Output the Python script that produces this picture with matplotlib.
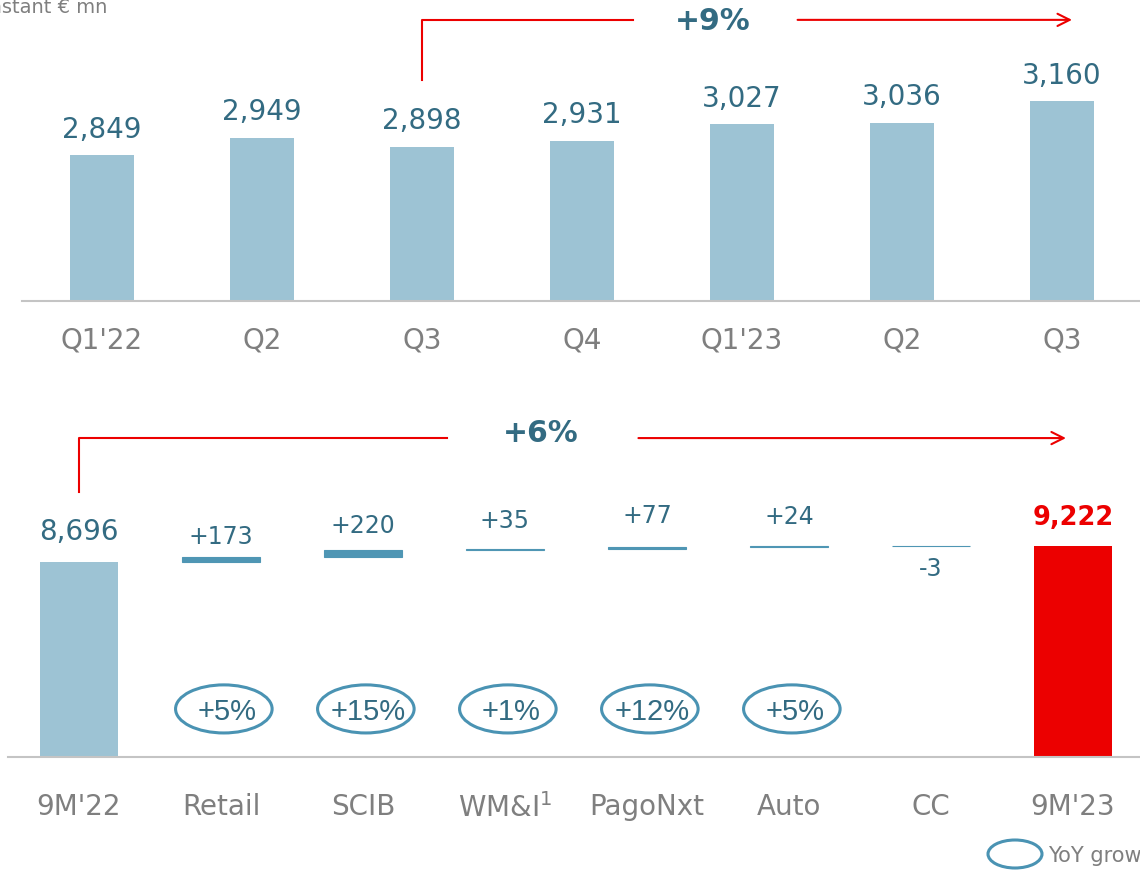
import matplotlib.pyplot as plt
import matplotlib.transforms as mtransforms
from matplotlib.patches import Ellipse
import numpy as np

# data
quarters = ["Q1'22", "Q2", "Q3", "Q4", "Q1'23", "Q2", "Q3"]
quarter_vals = [2849, 2949, 2898, 2931, 3027, 3036, 3160]

wf_labels = ["9M'22", "Retail", "SCIB", "WM&I$^{1}$", "PagoNxt", "Auto", "CC", "9M'23"]
start_val = 8696
end_val = 9222
deltas = [173, 220, 35, 77, 24, -3]
yoy = ["+5%", "+15%", "+1%", "+12%", "+5%"]

light = "#9dc3d4"
mid = "#4f96b4"
red = "#ec0000"
teal = "#336b82"
gray = "#7f7f7f"
axis_gray = "#c4c4c4"

# how far (points) each delta label sits from its segment
label_lift = [9, 12, 15, 17, 16, 8]

fig = plt.figure(figsize=(11.4, 8.72), dpi=100)
W, H = 1140, 872

# ---------- top chart ----------
ax1 = fig.add_axes([22 / W, 1 - 301 / H, 1120 / W, 301 / H])
x1 = np.arange(len(quarters))
ax1.bar(x1, quarter_vals, width=0.4, color=light, bottom=0)
ax1.set_xlim(-0.5, 6.5)
ax1.set_ylim(2008, 3742)
for xi, v in zip(x1, quarter_vals):
    ax1.annotate(f"{v:,}", (xi, v), xytext=(0, 12.5), textcoords="offset points",
                 ha="center", va="baseline", fontsize=20, color=teal)
ax1.set_xticks(x1)
ax1.set_xticklabels(quarters, fontsize=20, color=gray)
ax1.tick_params(axis="x", length=0, pad=18)
ax1.set_yticks([])
for s in ["top", "right", "left"]:
    ax1.spines[s].set_visible(False)
ax1.spines["bottom"].set_color(axis_gray)
ax1.spines["bottom"].set_linewidth(1.5)

tr1 = mtransforms.blended_transform_factory(ax1.transData, ax1.transAxes)
ax1.plot([2, 2, 3.32], [0.734, 0.934, 0.934], color=red, lw=1.5,
         transform=tr1, clip_on=False)
ax1.annotate("", xy=(6.08, 0.934), xytext=(4.33, 0.934), xycoords=tr1, textcoords=tr1,
             arrowprops=dict(arrowstyle="->", color=red, lw=1.5, mutation_scale=22))
ax1.text(3.82, 0.927, "+9%", transform=tr1, ha="center", va="center",
         fontsize=21.5, fontweight="bold", color=teal)

# ---------- bottom waterfall ----------
ax2 = fig.add_axes([8 / W, 1 - 757 / H, 1136 / W, 367 / H])
x2 = np.arange(len(wf_labels))
ax2.set_xlim(-0.5, 7.5)
ax2.set_ylim(2285, 14357)

ax2.bar(0, start_val, width=0.55, color=light)
ax2.bar(7, end_val, width=0.55, color=red)
bottoms = start_val + np.concatenate([[0], np.cumsum(deltas)[:-1]])
ax2.bar(x2[1:7], deltas, bottom=bottoms, width=0.55, color=mid,
        edgecolor=mid, linewidth=0.8)

ax2.annotate(f"{start_val:,}", (0, start_val), xytext=(0, 16), textcoords="offset points",
             ha="center", va="baseline", fontsize=20, color=teal)
ax2.annotate(f"{end_val:,}", (7, end_val), xytext=(0, 15), textcoords="offset points",
             ha="center", va="baseline", fontsize=18.5, color=red, fontweight="bold")
for xi, b, d, lift in zip(x2[1:7], bottoms, deltas, label_lift):
    if d >= 0:
        ax2.annotate(f"+{d}", (xi, b + d), xytext=(0, lift), textcoords="offset points",
                     ha="center", va="baseline", fontsize=17, color=teal)
    else:
        ax2.annotate(f"{d}", (xi, b), xytext=(0, -lift), textcoords="offset points",
                     ha="center", va="top", fontsize=17, color=teal)

tr2 = mtransforms.blended_transform_factory(ax2.transData, ax2.transAxes)
for xi, g in zip(x2[1:6], yoy):
    ax2.add_patch(Ellipse((xi + 0.02, 0.131), 0.68, 0.131, transform=tr2,
                          fill=False, edgecolor="#4a93b3", lw=2.2, clip_on=False))
    ax2.text(xi + 0.04, 0.122, g, transform=tr2, ha="center", va="center",
             fontsize=21, color=teal, family="Liberation Sans")

ax2.set_xticks(x2)
ax2.set_xticklabels(wf_labels, fontsize=20, color=gray)
ax2.tick_params(axis="x", length=0, pad=26)
ax2.set_yticks([])
for s in ["top", "right", "left"]:
    ax2.spines[s].set_visible(False)
ax2.spines["bottom"].set_color(axis_gray)
ax2.spines["bottom"].set_linewidth(1.5)

ax2.plot([0, 0, 2.59], [0.722, 0.869, 0.869], color=red, lw=1.5,
         transform=tr2, clip_on=False)
ax2.annotate("", xy=(6.97, 0.869), xytext=(3.92, 0.869), xycoords=tr2, textcoords=tr2,
             arrowprops=dict(arrowstyle="->", color=red, lw=1.5, mutation_scale=22))
ax2.text(3.25, 0.882, "+6%", transform=tr2, ha="center", va="center",
         fontsize=21.5, fontweight="bold", color=teal)

# ---------- extra texts ----------
fig.text(107 / W, 1 - 13 / H, "Constant € mn", ha="right", va="baseline",
         fontsize=14, color=gray)
fig.patches.append(Ellipse((1015 / W, 1 - 854 / H), 54 / W, 28 / H,
                           transform=fig.transFigure, fill=False,
                           edgecolor="#4a93b3", lw=2.2))
fig.text(1048 / W, 1 - 856 / H, "YoY growth", ha="left", va="center",
         fontsize=15, color=gray)

fig.savefig("out.png", dpi=100)
